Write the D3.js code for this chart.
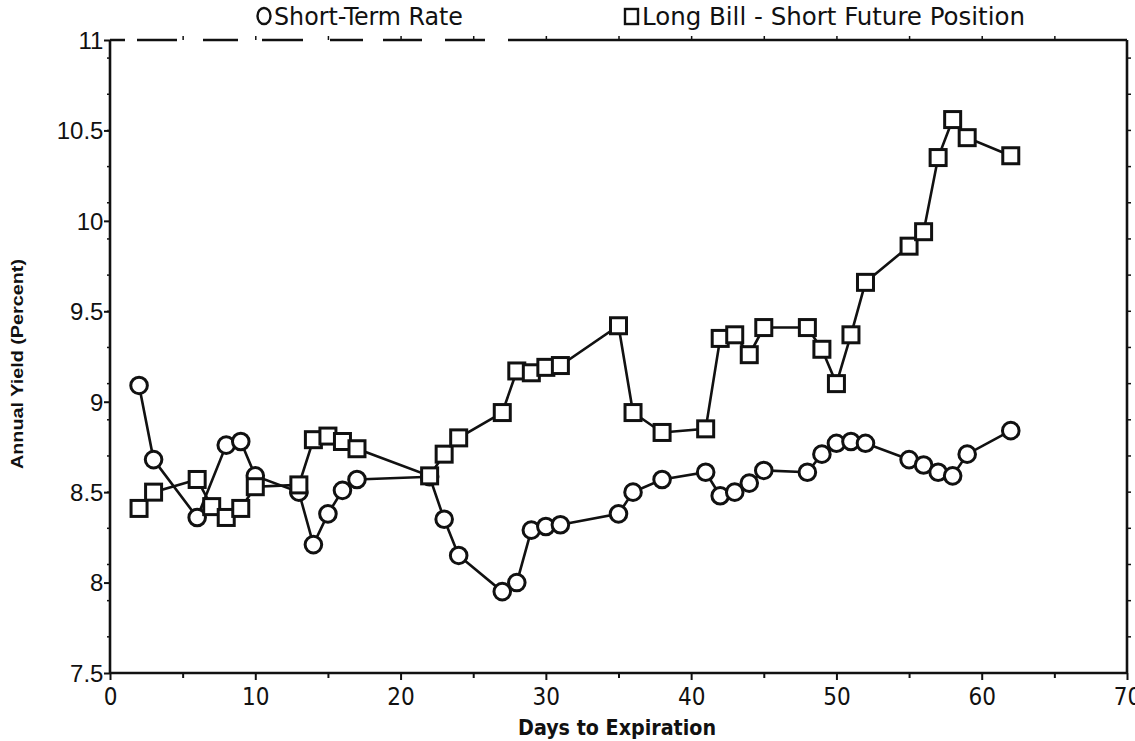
<!DOCTYPE html>
<html><head><meta charset="utf-8">
<script src="https://cdn.jsdelivr.net/npm/d3@7"></script>
<style>body{margin:0;background:#fff}svg{display:block}.cond{font-stretch:condensed}</style>
</head><body>
<svg id="chart" width="1135" height="741"></svg>
<script>
const shortDays = [2,3,6,8,9,10,13,14,15,16,17,22,23,24,27,28,29,30,31,35,36,38,41,42,43,44,45,48,49,50,51,52,55,56,57,58,59,62];
const shortRate = [9.09,8.68,8.36,8.76,8.78,8.59,8.50,8.21,8.38,8.51,8.57,8.585,8.35,8.15,7.95,8.00,8.29,8.31,8.32,8.38,8.50,8.57,8.61,8.48,8.50,8.55,8.62,8.61,8.71,8.77,8.78,8.77,8.68,8.65,8.61,8.59,8.71,8.84];
const longDays = [2,3,6,7,8,9,10,13,14,15,16,17,22,23,24,27,28,29,30,31,35,36,38,41,42,43,44,45,48,49,50,51,52,55,56,57,58,59,62];
const longBill = [8.41,8.50,8.57,8.42,8.36,8.41,8.53,8.54,8.79,8.81,8.78,8.74,8.59,8.71,8.80,8.94,9.17,9.16,9.19,9.20,9.42,8.94,8.83,8.85,9.35,9.37,9.26,9.41,9.41,9.29,9.10,9.37,9.66,9.86,9.94,10.35,10.56,10.46,10.36];
const xTicks = [0,10,20,30,40,50,60,70];
const yTicks = [7.5,8,8.5,9,9.5,10,10.5,11];
const yTickLabels = ["7.5","8","8.5","9","9.5","10","10.5","11"];
const seriesNames = ["Short-Term Rate","Long Bill - Short Future Position"];

const svg = d3.select("#chart");
const L = 110, R = 1127, T = 40, B = 673;
const x = d3.scaleLinear().domain([0,70]).range([L,R]);
const y = d3.scaleLinear().domain([7.5,11]).range([B,T]);
const narrow = "'DejaVu Sans Condensed','DejaVu Sans',sans-serif";

// axes lines
const g = svg.append("g").attr("stroke","#111").attr("fill","none");
g.append("line").attr("x1",L).attr("x2",R).attr("y1",B).attr("y2",B).attr("stroke-width",2.6);
g.append("line").attr("x1",L).attr("x2",L).attr("y1",T).attr("y2",B).attr("stroke-width",2.6);
g.append("line").attr("x1",R).attr("x2",R).attr("y1",T).attr("y2",B).attr("stroke-width",2.6);
g.append("line").attr("x1",L).attr("x2",R).attr("y1",T).attr("y2",T).attr("stroke-width",2.6)
  .attr("stroke-dasharray","15,12,40,26,35,24,41,27,33,20,39,23,40,23,700");

// bottom axis
const xAxis = d3.axisBottom(x).tickValues(d3.range(0,71,5)).tickSize(6).tickFormat(d => xTicks.includes(d) ? d : "");
const gx = svg.append("g").attr("transform",`translate(0,${B})`).call(xAxis);
gx.select(".domain").remove();
gx.selectAll(".tick line").attr("stroke","#111").attr("stroke-width",2).attr("y2", d => d%10===0 ? 7 : 5);
gx.selectAll(".tick text").attr("class","cond").attr("font-family",narrow).attr("font-size",24).attr("fill","#111").attr("dy","0.95em");

// top axis ticks
const gt = svg.append("g").attr("transform",`translate(0,${T})`).call(d3.axisTop(x).tickValues(d3.range(5,70,5)).tickSize(4).tickFormat(""));
gt.select(".domain").remove();
gt.selectAll(".tick line").attr("stroke","#111").attr("stroke-width",1.5);

// left axis
const yAxis = d3.axisLeft(y).tickValues(yTicks).tickSize(6).tickFormat((d,i) => yTickLabels[i]);
const gy = svg.append("g").attr("transform",`translate(${L},0)`).call(yAxis);
gy.select(".domain").remove();
gy.selectAll(".tick line").attr("stroke","#111").attr("stroke-width",2);
gy.selectAll(".tick text").attr("font-family","'Liberation Sans',Arial,sans-serif").attr("font-size",24).attr("fill","#111").attr("dx","0.1em").attr("dy","0.35em");
// left minor ticks
const minorY = d3.range(7.7,11,0.2);
svg.append("g").selectAll("line").data(minorY).join("line")
  .attr("x1",L-3).attr("x2",L).attr("y1",d=>y(d)).attr("y2",d=>y(d)).attr("stroke","#111").attr("stroke-width",1.5);
// right ticks
svg.append("g").selectAll("line").data(minorY).join("line")
  .attr("x1",R).attr("x2",R+4).attr("y1",d=>y(d)).attr("y2",d=>y(d)).attr("stroke","#111").attr("stroke-width",1.5);

// series
const line = d3.line().x(d=>x(d[0])).y(d=>y(d[1]));
const sData = shortDays.map((d,i)=>[d,shortRate[i]]);
const lData = longDays.map((d,i)=>[d,longBill[i]]);

svg.append("path").datum(sData).attr("d",line).attr("fill","none").attr("stroke","#111").attr("stroke-width",2.6);
svg.append("g").selectAll("circle").data(sData).join("circle")
  .attr("cx",d=>x(d[0])).attr("cy",d=>y(d[1])).attr("r",8.3)
  .attr("fill","#fff").attr("stroke","#111").attr("stroke-width",3);

svg.append("path").datum(lData).attr("d",line).attr("fill","none").attr("stroke","#111").attr("stroke-width",2.6);
const sq = 16;
svg.append("g").selectAll("rect").data(lData).join("rect")
  .attr("x",d=>x(d[0])-sq/2).attr("y",d=>y(d[1])-sq/2).attr("width",sq).attr("height",sq)
  .attr("fill","#fff").attr("stroke","#111").attr("stroke-width",3);

// legend
svg.append("ellipse").attr("cx",264).attr("cy",16).attr("rx",6.5).attr("ry",8).attr("fill","#fff").attr("stroke","#111").attr("stroke-width",2.4);
svg.append("text").attr("class","cond").attr("x",274).attr("y",25).text(seriesNames[0])
  .attr("font-family",narrow).attr("font-size",24).attr("fill","#111").attr("textLength",189).attr("lengthAdjust","spacingAndGlyphs");
svg.append("rect").attr("x",625).attr("y",9).attr("width",13).attr("height",15).attr("fill","#fff").attr("stroke","#111").attr("stroke-width",2.4);
svg.append("text").attr("class","cond").attr("x",642).attr("y",25).text(seriesNames[1])
  .attr("font-family",narrow).attr("font-size",24).attr("fill","#111").attr("textLength",383).attr("lengthAdjust","spacingAndGlyphs");

// axis titles
svg.append("text").attr("class","cond").attr("x",617).attr("y",735).attr("text-anchor","middle").text("Days to Expiration")
  .attr("font-family",narrow).attr("font-size",22).attr("font-weight","bold").attr("fill","#111").attr("textLength",198).attr("lengthAdjust","spacingAndGlyphs");
svg.append("text").attr("transform","translate(23,364) rotate(-90)").attr("text-anchor","middle").text("Annual Yield (Percent)")
  .attr("font-family","'Liberation Sans',Arial,sans-serif").attr("font-size",17).attr("font-weight","bold").attr("fill","#111").attr("textLength",210).attr("lengthAdjust","spacingAndGlyphs");
</script>
</body></html>
